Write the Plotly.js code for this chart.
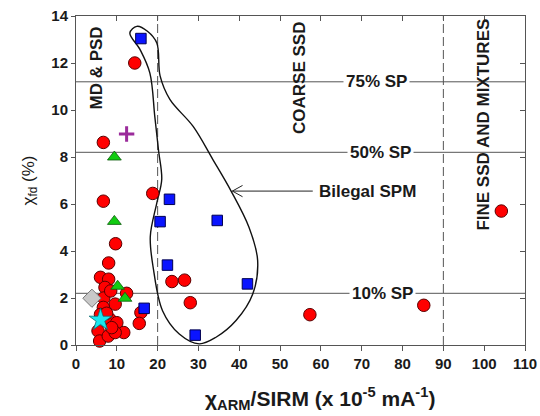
<!DOCTYPE html>
<html>
<head>
<meta charset="utf-8">
<script src="https://cdn.plot.ly/plotly-3.0.1.min.js"></script>
<style>html,body{margin:0;padding:0;background:#fff;}#chart{width:540px;height:416px;}</style>
</head>
<body>
<div id="chart"></div>
<script>
// ---- data ----
const redX = [14.4, 6.7, 18.8, 6.7, 9.7, 8.0, 23.5, 26.6, 28.0, 57.3, 85.2, 104.2, 15.9, 15.5, 12.4,
              6.0, 8.0, 7.1, 6.8, 8.5, 9.6, 6.7, 8.3, 10.0, 11.7, 5.4, 5.8, 7.9, 9.6, 8.75, 6.0, 7.5];
const redY = [12.0, 8.62, 6.45, 6.12, 4.31, 3.49, 2.7, 2.76, 1.8, 1.29, 1.69, 5.7, 1.38, 0.92, 2.2,
              2.88, 2.8, 2.45, 2.0, 2.3, 1.74, 1.6, 1.1, 0.95, 0.53, 0.6, 0.17, 0.38, 0.53, 0.74, 1.3, 1.35];
const blueX = [15.9, 22.9, 20.6, 34.6, 22.4, 42.0, 16.7, 29.2];
const blueY = [13.04, 6.2, 5.25, 5.3, 3.4, 2.6, 1.56, 0.42];
const greenX = [9.4, 9.4, 10.2, 12.0];
const greenY = [8.0, 5.26, 2.5, 1.99];
const grayX = [3.9];
const grayY = [1.99];
const cyanX = [6.0];
const cyanY = [1.07];
const purpleX = [12.4];
const purpleY = [8.98];

// Bilegal SPM outline (data coordinates)
const curveX = [14.9, 17.5, 19.8, 20.6, 23.0, 28.7, 33.5, 38.0, 42.4, 44.5, 43.3, 39.2, 34.3, 30.2, 25.3, 21.2,
                19.0, 18.2, 19.8, 21.0, 20.2, 19.3, 18.1, 15.7, 13.2, 14.9];
const curveY = [13.56, 13.35, 12.85, 11.45, 10.45, 9.3, 7.9, 6.55, 5.0, 3.6, 2.17, 1.04, 0.33, 0.05, 0.47, 1.46,
                3.2, 4.62, 6.05, 7.04, 8.31, 9.73, 11.57, 12.57, 13.28, 13.56];

// reference lines and labels
const spLevels = [11.2, 8.2, 2.2];
const spLabels = ['75% SP', '50% SP', '10% SP'];
const spLabelX = [73.5, 74.6, 75.2];
const domainBounds = [20, 90];
const xTicks = [0,10,20,30,40,50,60,70,80,90,100,110];
const yTicks = [0,2,4,6,8,10,12,14];

const FONT = 'Liberation Sans, Arial, Helvetica, sans-serif';
const TXT = '#1a1a1a';
const mk = (x, y, name, marker) => ({x, y, name, type:'scatter', mode:'markers', marker, hoverinfo:'skip', cliponaxis:false});

const traces = [
  {x: curveX, y: curveY, type:'scatter', mode:'lines', line:{color:'#111', width:1.4, shape:'spline', smoothing:1}, hoverinfo:'skip'},
  mk(redX, redY, 'red', {symbol:'circle', size:12.5, color:'#ff0000', line:{color:'#5a0000', width:1}}),
  mk(greenX, greenY, 'green', {symbol:'triangle-up', size:12, color:'#11cc11', line:{color:'#0a5a0a', width:0.8}}),
  mk(blueX, blueY, 'blue', {symbol:'square', size:10.5, color:'#0a14ff', line:{color:'#000050', width:1}}),
  mk(grayX, grayY, 'gray', {symbol:'diamond', size:14, color:'#c8c8c8', line:{color:'#777', width:1}}),
  mk(cyanX, cyanY, 'cyan', {symbol:'star', size:17, color:'#19e6f0', line:{color:'#0a6a70', width:0.8}}),
  mk(purpleX, purpleY, 'purple', {symbol:'cross-thin', size:11, color:'#9b2b9b', line:{color:'#9b2b9b', width:3}}),
  {x:[], y:[], xaxis:'x2', yaxis:'y2', type:'scatter', mode:'markers', hoverinfo:'skip'}
];

const shapes = [];
spLevels.forEach(v => shapes.push({type:'line', xref:'x', yref:'y', x0:0, x1:110, y0:v, y1:v, line:{color:'#555', width:1}, layer:'below'}));
domainBounds.forEach(v => shapes.push({type:'line', xref:'x', yref:'y', x0:v, x1:v, y0:0, y1:14, line:{color:'#555', width:1, dash:'9px,4px'}, layer:'below'}));
// arrow to the outline
const arrY = 6.55, arrTail = 58.0, arrHead = 38.3;
shapes.push({type:'path', xref:'x', yref:'y', path:`M ${arrTail},${arrY} L ${arrHead},${arrY} M ${arrHead+2.5},${arrY+0.24} L ${arrHead},${arrY} L ${arrHead+2.5},${arrY-0.24}`, line:{color:'#222', width:1}});

const annotations = [];
spLevels.forEach((v,i) => annotations.push({x:spLabelX[i], y:v, xref:'x', yref:'y', text:'<b>'+spLabels[i]+'</b>', showarrow:false, bgcolor:'#fff', borderpad:2, font:{family:FONT, size:17, color:TXT}}));
annotations.push({x:5.1, y:11.8, xref:'x', yref:'y', text:'<b>MD & PSD</b>', textangle:-90, showarrow:false, font:{family:FONT, size:17, color:TXT}});
annotations.push({x:54.8, y:11.35, xref:'x', yref:'y', text:'<b>COARSE SSD</b>', textangle:-90, showarrow:false, font:{family:FONT, size:17, color:TXT}});
annotations.push({x:99.9, y:9.37, xref:'x', yref:'y', text:'<b>FINE SSD AND MIXTURES</b>', textangle:-90, showarrow:false, font:{family:FONT, size:17, color:TXT}});
annotations.push({x:arrTail+1.1, y:arrY, xref:'x', yref:'y', text:'<b>Bilegal SPM</b>', xanchor:'left', showarrow:false, font:{family:FONT, size:17, color:TXT}});
// x-axis title
annotations.push({x:0.544, y:-0.162, xref:'paper', yref:'paper', xanchor:'center', yanchor:'middle', showarrow:false,
  text:'<b>χ<sub>ARM</sub>/SIRM (x 10<sup>-5</sup> mA<sup>-1</sup>)</b>', font:{family:FONT, size:21, color:TXT}});

const tickFont = {family:FONT, size:15, color:TXT, weight:'bold'};
const layout = {
  width:540, height:416,
  margin:{l:76, r:15, t:16, b:71},
  paper_bgcolor:'#fff', plot_bgcolor:'#fff',
  showlegend:false,
  xaxis:{range:[0,110], tickvals:xTicks, showgrid:false, zeroline:false, showline:true, linecolor:'#555', linewidth:1, mirror:true,
         ticks:'outside', ticklen:5, tickcolor:'#555', tickfont:tickFont},
  yaxis:{range:[0,14], tickvals:yTicks, showgrid:false, zeroline:false, showline:true, linecolor:'#555', linewidth:1, mirror:true,
         ticks:'outside', ticklen:4, tickcolor:'#555', tickfont:tickFont,
         title:{text:'χ<sub>fd</sub> (%)', font:{family:FONT, size:17, color:TXT}, standoff:12}},
  xaxis2:{range:[0,110], tickvals:xTicks, overlaying:'x', side:'top', anchor:'y2', showgrid:false, zeroline:false, showline:false,
          ticks:'inside', ticklen:5, tickcolor:'#555', showticklabels:false},
  yaxis2:{range:[0,14], tickvals:yTicks, overlaying:'y', side:'right', anchor:'x2', showgrid:false, zeroline:false, showline:false,
          ticks:'inside', ticklen:5, tickcolor:'#555', showticklabels:false},
  shapes, annotations
};
Plotly.newPlot('chart', traces, layout, {staticPlot:true, displayModeBar:false});
</script>
</body>
</html>
